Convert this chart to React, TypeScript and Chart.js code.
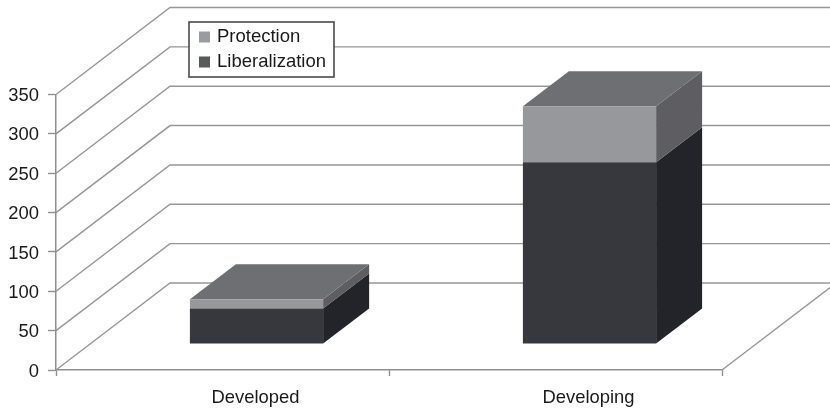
import React, { useEffect, useRef } from "react";
import { Chart, registerables } from "chart.js";

Chart.register(...registerables);

const categories = ["Developed", "Developing"];
const liberalization = [45, 231];
const protection = [12, 71];
const yTicks = [0, 50, 100, 150, 200, 250, 300, 350];

const FONT = "'Liberation Sans', Arial, sans-serif";
const AXIS = "#8f8f91";
const GRID = "#969698";

const WALL = { dx: 114, dy: 87 };
const GAP = { dx: 34, dy: 26 };
const DEPTH = { dx: 46, dy: 35 };

const faces = [
  { front: "#36383e", side: "#22242a", top: "" },
  { front: "#97989b", side: "#5e5e62", top: "#6e6f72" },
];

const legendItems = [
  { text: "Protection", fillStyle: "#9a9b9e" },
  { text: "Liberalization", fillStyle: "#58595b" },
];

function poly(ctx: CanvasRenderingContext2D, pts: number[][], fill: string) {
  ctx.fillStyle = fill;
  ctx.beginPath();
  pts.forEach(([x, y], i) => (i ? ctx.lineTo(x, y) : ctx.moveTo(x, y)));
  ctx.closePath();
  ctx.fill();
}

const walls3d = {
  id: "walls3d",
  beforeDraw(chart: any) {
    const { ctx, chartArea, width } = chart;
    const yS = chart.scales.y;
    ctx.save();
    ctx.strokeStyle = GRID;
    ctx.lineWidth = 1.4;
    yTicks.forEach((v) => {
      const y = yS.getPixelForValue(v);
      ctx.beginPath();
      ctx.moveTo(chartArea.left, y);
      ctx.lineTo(chartArea.left + WALL.dx, y - WALL.dy);
      ctx.lineTo(width, y - WALL.dy);
      ctx.stroke();
    });
    const y0 = yS.getPixelForValue(0);
    ctx.beginPath();
    ctx.moveTo(chartArea.right, y0);
    ctx.lineTo(chartArea.right + WALL.dx, y0 - WALL.dy);
    ctx.stroke();

    // legend
    ctx.fillStyle = "#ffffff";
    ctx.fillRect(189, 22, 145, 55);
    ctx.strokeStyle = "#4a4a4c";
    ctx.lineWidth = 1.6;
    ctx.strokeRect(189, 22, 145, 55);
    ctx.font = `18.5px ${FONT}`;
    ctx.textBaseline = "middle";
    ctx.textAlign = "left";
    legendItems.forEach((it, i) => {
      const cy = 37 + i * 25;
      ctx.fillStyle = it.fillStyle;
      ctx.fillRect(199, cy - 5.5, 11, 11);
      ctx.fillStyle = "#1a1a1a";
      ctx.fillText(it.text, 217, cy);
    });
    ctx.restore();
  },
  beforeDatasetsDraw(chart: any) {
    const { ctx } = chart;
    ctx.save();
    ctx.translate(GAP.dx, -GAP.dy);
    const { dx, dy } = DEPTH;
    faces.forEach((face, di) => {
      chart.getDatasetMeta(di).data.forEach((el: any) => {
        const { x, y, base, width } = el.getProps(["x", "y", "base", "width"], true);
        const l = x - width / 2;
        const r = x + width / 2;
        poly(ctx, [[r, y], [r + dx, y - dy], [r + dx, base - dy], [r, base]], face.side);
        if (face.top) {
          poly(ctx, [[l, y], [l + dx, y - dy], [r + dx, y - dy], [r, y]], face.top);
        }
      });
    });
    ctx.restore();
  },
  beforeDatasetDraw(chart: any) {
    chart.ctx.save();
    chart.ctx.translate(GAP.dx, -GAP.dy);
  },
  afterDatasetDraw(chart: any) {
    chart.ctx.restore();
  },
};

export default function App() {
  const ref = useRef<HTMLCanvasElement | null>(null);
  useEffect(() => {
    if (!ref.current) return;
    const chart = new Chart(ref.current, {
      type: "bar",
      data: {
        labels: categories,
        datasets: [
          { label: "Liberalization", data: liberalization, backgroundColor: faces[0].front, clip: false },
          { label: "Protection", data: protection, backgroundColor: faces[1].front, clip: false },
        ],
      } as any,
      plugins: [walls3d],
      options: {
        animation: false,
        responsive: false,
        devicePixelRatio: 1,
        layout: { autoPadding: false, padding: { left: 0, top: 94.5, right: 108, bottom: 0 } },
        datasets: { bar: { barPercentage: 1, categoryPercentage: 0.4, borderWidth: 0 } },
        plugins: {
          title: { display: false },
          tooltip: { enabled: false },
          legend: { display: false },
        },
        scales: {
          x: {
            stacked: true,
            afterFit: (s: any) => { s.height = 40; },
            border: { color: AXIS, width: 1.5 },
            grid: { drawOnChartArea: false, drawTicks: true, tickLength: 6, tickWidth: 1.4, tickColor: AXIS },
            ticks: {
              color: "#1a1a1a",
              font: { family: FONT, size: 18.4 },
              padding: 11,
              labelOffset: 33,
              maxRotation: 0,
            },
          },
          y: {
            stacked: true,
            min: 0,
            max: 350,
            afterFit: (s: any) => { s.width = 56; },
            border: { color: AXIS, width: 1.5 },
            grid: { drawOnChartArea: false, drawTicks: true, tickLength: 8, tickWidth: 1.4, tickColor: AXIS },
            ticks: {
              stepSize: 50,
              color: "#1a1a1a",
              font: { family: FONT, size: 18.4 },
              padding: 9,
              labelOffset: 1.5,
            },
          },
        },
      } as any,
    });
    return () => chart.destroy();
  }, []);
  return (
    <div style={{ position: "fixed", left: 0, top: 0, width: 830, height: 410, background: "#fff" }}>
      <canvas ref={ref} width={830} height={410} style={{ display: "block" }} />
    </div>
  );
}
